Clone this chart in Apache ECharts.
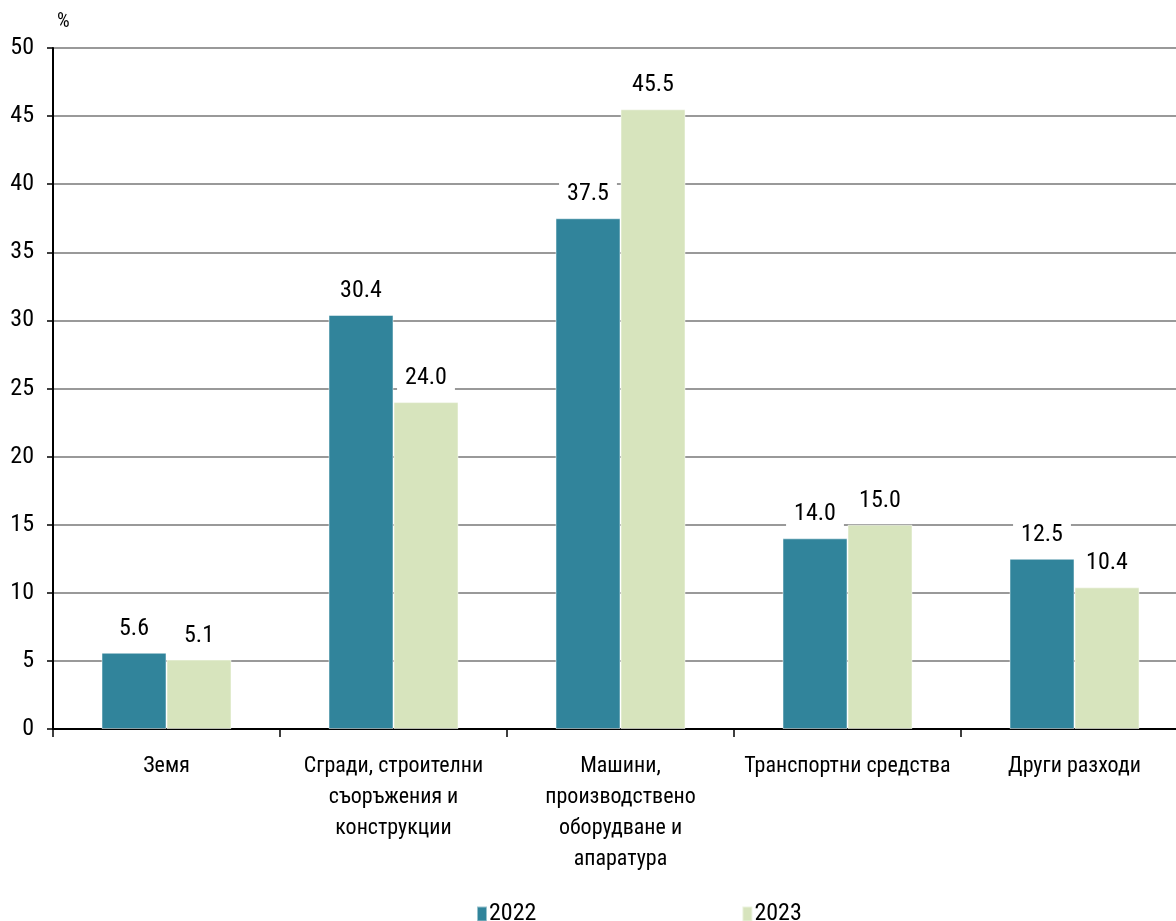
<!DOCTYPE html>
<html><head><meta charset="utf-8">
<script src="https://cdn.jsdelivr.net/npm/echarts@6/dist/echarts.min.js"></script>
<style>html,body{margin:0;padding:0;background:#fff}#c{width:1176px;height:921px}</style>
</head><body><div id="c"></div>
<script>
const categories = ['Земя', 'Сгради, строителни\nсъоръжения и\nконструкции', 'Машини,\nпроизводствено\nоборудване и\nапаратура', 'Транспортни средства', 'Други разходи'];
const seriesNames = ['2022', '2023'];
const values2022 = [5.6, 30.4, 37.5, 14.0, 12.5];
const values2023 = [5.1, 24.0, 45.5, 15.0, 10.4];
const colors = ['#31849B', '#D7E4BD'];
const FONT = '"Roboto Condensed", "DejaVu Sans Condensed", sans-serif';

const chart = echarts.init(document.getElementById('c'));
const mkSeries = (name, data, color) => ({
  name, type: 'bar', data, barWidth: 65, barGap: '0%',
  itemStyle: { color, borderColor: 'rgba(255,255,255,0.5)', borderWidth: 1 },
  label: {
    show: true, position: 'top', distance: 8,
    formatter: p => p.value.toFixed(1),
    fontFamily: FONT, fontSize: 24, color: '#000',
    backgroundColor: '#fff', padding: [4, 8, 4, 8]
  }
});
chart.setOption({
  animation: false,
  textStyle: { fontFamily: FONT },
  grid: { left: 53, top: 48, height: 681, width: 1135, containLabel: false, outerBoundsMode: 'none' },
  legend: {
    data: seriesNames, left: 471, top: 897, itemGap: 205,
    icon: 'rect', itemWidth: 10, itemHeight: 15,
    textStyle: { fontFamily: FONT, fontSize: 24, color: '#000', padding: [0, 0, 0, -3] }
  },
  xAxis: {
    type: 'category', data: categories,
    axisLine: { lineStyle: { color: '#000', width: 2 } },
    axisTick: { show: true, length: 8, lineStyle: { color: '#000', width: 1.5 } },
    axisLabel: { fontFamily: FONT, fontSize: 22, color: '#000', lineHeight: 31, margin: 22, interval: 0 }
  },
  yAxis: {
    type: 'value', min: 0, max: 50, interval: 5,
    name: '%', nameLocation: 'end', nameGap: 16,
    nameTextStyle: { fontFamily: FONT, fontSize: 20, color: '#000', align: 'left', padding: [0, 0, 0, 4] },
    axisLine: { show: true, lineStyle: { color: '#000', width: 2 } },
    axisTick: { show: true, length: 6, lineStyle: { color: '#000', width: 1.5 } },
    axisLabel: { fontFamily: FONT, fontSize: 24, color: '#000', margin: 19 },
    splitLine: { lineStyle: { color: '#999', width: 2 } }
  },
  series: [mkSeries(seriesNames[0], values2022, colors[0]), mkSeries(seriesNames[1], values2023, colors[1])]
});
</script></body></html>
